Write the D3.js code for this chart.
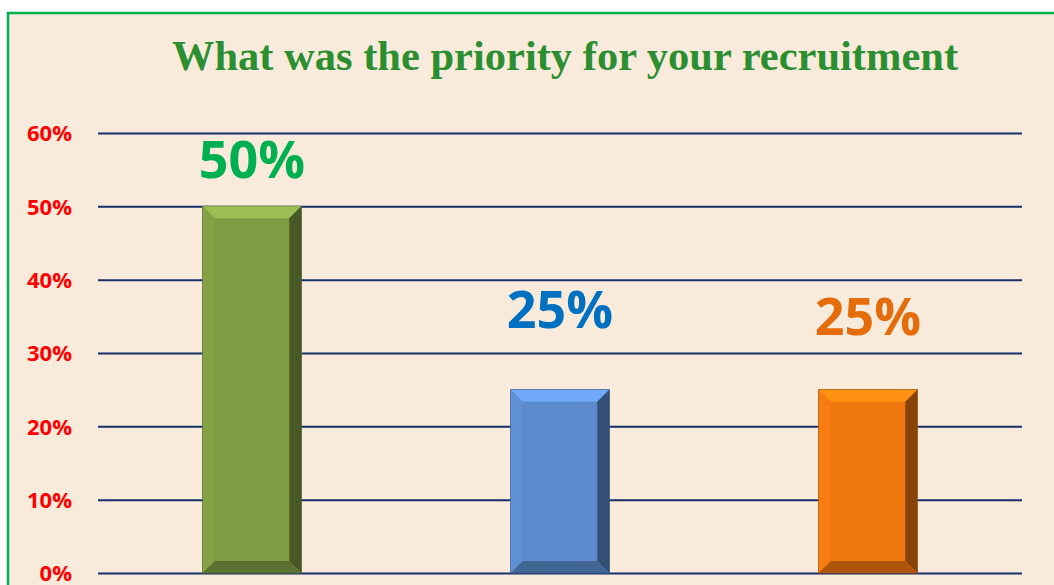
<!DOCTYPE html>
<html>
<head>
<meta charset="utf-8">
<script src="https://cdn.jsdelivr.net/npm/d3@7"></script>
<style>
    body { margin: 0; background: #ffffff; overflow: hidden; }
    svg { display: block; }
</style>
</head>
<body>
<svg></svg>
<script>
// Data
let categories = ['A', 'B', 'C']
let values = [0.50, 0.25, 0.25]
let yTicks = [0, 0.1, 0.2, 0.3, 0.4, 0.5, 0.6]
let barColors = ['#7f9c43', '#5b8bcc', '#f0780f']
let labelColors = ['#00b050', '#0070c0', '#e46c0a']
let labelLift = [28, 62, 55]

let width = 1054
let height = 585

let svg = d3.select('svg')
    .attr('width', width)
    .attr('height', height)

// Chart area
svg.append('rect')
    .attr('x', 8)
    .attr('y', 13)
    .attr('width', 1060)
    .attr('height', 620)
    .attr('fill', '#f8ebdb')
    .attr('stroke', '#00b050')
    .attr('stroke-width', 2.5)

// Title
svg.append('text')
    .attr('x', 565)
    .attr('y', 70)
    .attr('text-anchor', 'middle')
    .style('font-family', '"Liberation Serif", "Times New Roman", serif')
    .style('font-weight', 'bold')
    .style('font-size', '42.5px')
    .attr('fill', '#2b8f31')
    .text('What was the priority for your recruitment')

// Scales
let scale = {
    x: d3.scaleBand().domain(categories).range([98, 1022]).paddingInner(0.68).paddingOuter(0.34),
    y: d3.scaleLinear().domain([0, 0.6]).range([573, 133])
}

// Grid
let grid = d3.axisLeft(scale.y)
    .tickValues(yTicks)
    .tickFormat('')
    .tickSize(-(1022 - 98))

let g = svg.append('g')
    .attr('transform', 'translate(98,0)')
    .call(grid)
g.select('.domain').remove()
g.selectAll('.tick line')
    .attr('stroke', '#15306a')
    .attr('stroke-width', 2)

// Y axis labels
let yAxis = d3.axisLeft(scale.y)
    .tickValues(yTicks)
    .tickFormat(d3.format('.0%'))
    .tickSize(0)
    .tickPadding(0)

let ya = svg.append('g')
    .attr('transform', 'translate(72,0)')
    .call(yAxis)
ya.select('.domain').remove()
ya.selectAll('text')
    .attr('fill', '#ff0000')
    .attr('dy', '0.36em')
    .style('font-family', '"Open Sans", "Noto Sans", sans-serif')
    .style('font-weight', 'bold')
    .style('font-size', '22px')

// Bars with bevel
let bev = 12
let bars = svg.selectAll('.bar')
    .data(values)
    .enter()
    .append('g')
    .attr('class', 'bar')

bars.append('rect')
    .attr('x', (d, i) => scale.x(categories[i]))
    .attr('y', d => scale.y(d))
    .attr('width', scale.x.bandwidth())
    .attr('height', d => scale.y(0) - scale.y(d))
    .attr('fill', (d, i) => barColors[i])
    .attr('stroke', (d, i) => d3.color(barColors[i]).darker(1.2))
    .attr('stroke-width', 1)

function facet(d, i, which) {
    let x0 = scale.x(categories[i])
    let x1 = x0 + scale.x.bandwidth()
    let y0 = scale.y(d)
    let y1 = scale.y(0)
    let p
    if (which === 'top') p = [[x0, y0], [x1, y0], [x1 - bev, y0 + bev], [x0 + bev, y0 + bev]]
    if (which === 'bottom') p = [[x0, y1], [x1, y1], [x1 - bev, y1 - bev], [x0 + bev, y1 - bev]]
    if (which === 'left') p = [[x0, y0], [x0 + bev, y0 + bev], [x0 + bev, y1 - bev], [x0, y1]]
    if (which === 'right') p = [[x1, y0], [x1 - bev, y0 + bev], [x1 - bev, y1 - bev], [x1, y1]]
    return 'M' + p.map(q => q.join(',')).join('L') + 'Z'
}

let facets = [
    { name: 'top', fn: c => d3.color(c).brighter(0.55) },
    { name: 'left', fn: c => d3.color(c).brighter(0.1) },
    { name: 'right', fn: c => d3.color(c).darker(1.6) },
    { name: 'bottom', fn: c => d3.color(c).darker(0.9) }
]
facets.forEach(f => {
    bars.append('path')
        .attr('d', (d, i) => facet(d, i, f.name))
        .attr('fill', (d, i) => f.fn(barColors[i]))
})

// Value labels
svg.selectAll('.value')
    .data(values)
    .enter()
    .append('text')
    .attr('class', 'value')
    .attr('x', (d, i) => scale.x(categories[i]) + scale.x.bandwidth() / 2)
    .attr('y', (d, i) => scale.y(d) - labelLift[i])
    .attr('text-anchor', 'middle')
    .attr('fill', (d, i) => labelColors[i])
    .style('font-family', '"Open Sans", "Noto Sans", sans-serif')
    .style('font-weight', 'bold')
    .style('font-size', '52px')
    .text(d => d3.format('.0%')(d))
</script>
</body>
</html>
